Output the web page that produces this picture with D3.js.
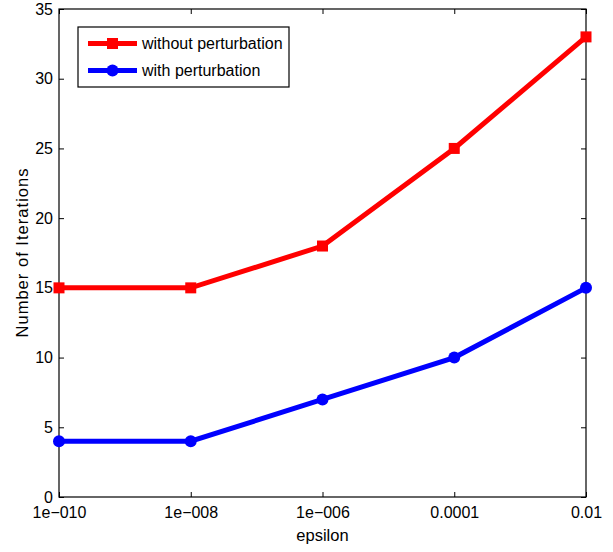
<!DOCTYPE html>
<html>
<head>
<meta charset="utf-8">
<script src="https://cdn.jsdelivr.net/npm/d3@7"></script>
<style>
  html, body { margin: 0; padding: 0; background: #fff; }
  svg { display: block; font-family: "Liberation Sans", Arial, Helvetica, sans-serif; }
</style>
</head>
<body>
<svg id="chart" width="613" height="552"></svg>
<script>
// Iteration counts for each tolerance setting
const epsilonLabels = ["1e\u2212010", "1e\u2212008", "1e\u2212006", "0.0001", "0.01"];
const withoutPerturbation = [15, 15, 18, 25, 33];
const withPerturbation = [4, 4, 7, 10, 15];
const yTicks = [0, 5, 10, 15, 20, 25, 30, 35];
const seriesNames = ["without perturbation", "with perturbation"];

const margin = { left: 59, right: 27, top: 9, bottom: 55 };
const W = 613, H = 552;
const iw = W - margin.left - margin.right;
const ih = H - margin.top - margin.bottom;
const fontSize = "16px";

const svg = d3.select("#chart");
const g = svg.append("g").attr("transform", `translate(${margin.left},${margin.top})`);

const x = d3.scalePoint().domain(epsilonLabels).range([0, iw]);
const y = d3.scaleLinear().domain([0, 35]).range([ih, 0]);

// Frame
g.append("rect").attr("x", 0).attr("y", 0).attr("width", iw).attr("height", ih)
  .attr("fill", "none").attr("stroke", "#000").attr("stroke-width", 1.2);

// Axes with inward ticks on all four sides
const tickLen = 5;
const bottomAxis = d3.axisBottom(x).tickSizeInner(-tickLen).tickSizeOuter(0).tickPadding(10);
const leftAxis = d3.axisLeft(y).tickValues(yTicks).tickSizeInner(-tickLen).tickSizeOuter(0).tickPadding(6);

const gx = g.append("g").attr("transform", `translate(0,${ih})`).call(bottomAxis);
const gy = g.append("g").call(leftAxis);
const gxTop = g.append("g").call(d3.axisTop(x).tickSizeInner(-tickLen).tickSizeOuter(0).tickFormat(""));
const gyRight = g.append("g").attr("transform", `translate(${iw},0)`)
  .call(d3.axisRight(y).tickValues(yTicks).tickSizeInner(-tickLen).tickSizeOuter(0).tickFormat(""));

[gx, gy, gxTop, gyRight].forEach(a => {
  a.select(".domain").remove();
  a.selectAll("line").attr("stroke", "#000").attr("stroke-width", 1);
  a.selectAll("text").attr("fill", "#000").style("font-size", fontSize)
    .style("font-family", "'Liberation Sans', Arial, sans-serif");
});

// Axis titles
svg.append("text").attr("x", margin.left + iw / 2).attr("y", 541)
  .attr("text-anchor", "middle").style("font-size", "16.5px").text("epsilon");
svg.append("text")
  .attr("transform", `translate(27.5,${margin.top + ih / 2}) rotate(-90)`)
  .attr("text-anchor", "middle").style("font-size", "16.5px")
  .attr("textLength", 169).attr("lengthAdjust", "spacing")
  .text("Number of Iterations");

const series = [
  { name: seriesNames[0], values: withoutPerturbation, color: "#ff0000", marker: "square" },
  { name: seriesNames[1], values: withPerturbation, color: "#0000ff", marker: "circle" }
];

const line = d3.line().x((d, i) => x(epsilonLabels[i])).y(d => y(d));

series.forEach(s => {
  g.append("path").datum(s.values).attr("d", line)
    .attr("fill", "none").attr("stroke", s.color).attr("stroke-width", 5)
    .attr("stroke-linejoin", "miter");
  const m = g.append("g");
  if (s.marker === "square") {
    m.selectAll("rect").data(s.values).join("rect")
      .attr("x", (d, i) => x(epsilonLabels[i]) - 5.5).attr("y", d => y(d) - 5.5)
      .attr("width", 11).attr("height", 11).attr("fill", s.color);
  } else {
    m.selectAll("circle").data(s.values).join("circle")
      .attr("cx", (d, i) => x(epsilonLabels[i])).attr("cy", d => y(d))
      .attr("r", 6).attr("fill", s.color);
  }
});

// Legend
const lg = svg.append("g");
lg.append("rect").attr("x", 78).attr("y", 27).attr("width", 211).attr("height", 60)
  .attr("fill", "#fff").attr("stroke", "#000").attr("stroke-width", 1.2);
series.forEach((s, i) => {
  const cy = 43.5 + i * 27;
  lg.append("line").attr("x1", 88).attr("x2", 137).attr("y1", cy).attr("y2", cy)
    .attr("stroke", s.color).attr("stroke-width", 5);
  if (s.marker === "square") {
    lg.append("rect").attr("x", 112.5 - 5.5).attr("y", cy - 5.5).attr("width", 11).attr("height", 11).attr("fill", s.color);
  } else {
    lg.append("circle").attr("cx", 112.5).attr("cy", cy).attr("r", 6).attr("fill", s.color);
  }
  lg.append("text").attr("x", 142).attr("y", cy).attr("dy", "0.35em")
    .style("font-size", fontSize).text(s.name);
});
</script>
</body>
</html>
